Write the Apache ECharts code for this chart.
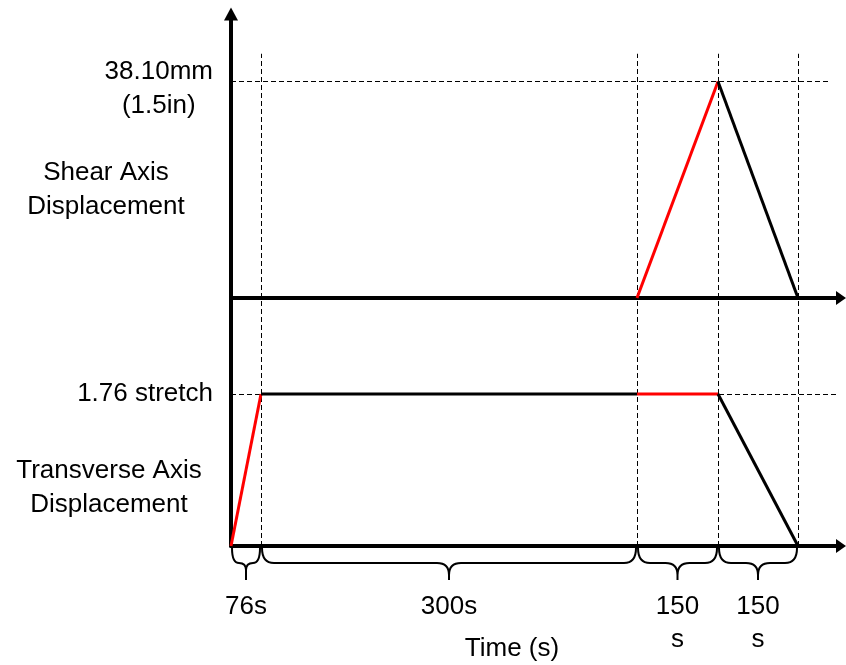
<!DOCTYPE html>
<html>
<head>
<meta charset="utf-8">
<script src="https://cdn.jsdelivr.net/npm/echarts@6/dist/echarts.min.js"></script>
<style>
  html, body { margin: 0; padding: 0; background: #fff; }
  #chart { width: 846px; height: 665px; }
</style>
</head>
<body>
<div id="chart"></div>
<script>
// Loading protocol, drawn on a schematic (not-to-scale) time line.
const phaseLabels = ['76s', '300s', '150\ns', '150\ns'];
// schematic x position of each phase boundary
const phaseX = [0, 3.0, 40.6, 48.7, 56.7];
// displacement at each phase boundary
const shearValues = [0, 0, 0, 38.10, 0];          // mm
const transverseValues = [0, 1.76, 1.76, 1.76, 0]; // stretch ratio
// phases in which each axis is being actively driven
const shearActive = [false, false, true, false];
const transverseActive = [true, false, true, false];

const FONT = "'Liberation Sans', Arial, sans-serif";
const X_MAX = 61;
const GUIDE_TOP = 43; // upper end of the vertical guides in the shear panel

function segmentSeries(values, active, gridIdx) {
  return values.slice(0, -1).map((v, i) => ({
    type: 'line',
    xAxisIndex: gridIdx,
    yAxisIndex: gridIdx,
    symbol: 'none',
    z: 5,
    lineStyle: { width: 3, color: active[i] ? '#ff0000' : '#000000' },
    data: [[phaseX[i], v], [phaseX[i + 1], values[i + 1]]]
  }));
}

const dashed = { type: [5, 3], width: 1, color: '#000' };

function guides(peak, xEnd, topVal) {
  const lines = phaseX.slice(1).map(x => [{ coord: [x, 0] }, { coord: [x, topVal] }]);
  lines.push([{ coord: [0, peak] }, { coord: [xEnd, peak] }]);
  return {
    silent: true, symbol: ['none', 'none'], label: { show: false },
    lineStyle: dashed, emphasis: { disabled: true }, animation: false,
    data: lines
  };
}

const shearSeries = segmentSeries(shearValues, shearActive, 0);
shearSeries[0].markLine = guides(Math.max(...shearValues), 59.7, GUIDE_TOP);
const transSeries = segmentSeries(transverseValues, transverseActive, 1);
transSeries[0].markLine = guides(Math.max(...transverseValues), 60.7, 3);

function xAxisCfg(gridIdx) {
  return {
    type: 'value', gridIndex: gridIdx, min: 0, max: X_MAX,
    axisLine: { show: true, symbol: ['none', 'triangle'], symbolSize: [14, 10],
                lineStyle: { color: '#000', width: 4 } },
    axisTick: { show: false }, axisLabel: { show: false }, splitLine: { show: false }
  };
}

// curly braces under the time axis, one per phase, with the phase duration
const braceSeries = {
  type: 'custom',
  xAxisIndex: 1, yAxisIndex: 1,
  clip: false, silent: true, z: 6,
  data: phaseLabels.map((_, i) => [phaseX[i], phaseX[i + 1]]),
  renderItem(params, api) {
    const a = api.coord([api.value(0), 0]);
    const b = api.coord([api.value(1), 0]);
    const x0 = a[0] + 1, x1 = b[0] - 1, y0 = a[1] + 2;
    const yh = y0 + 15, yt = y0 + 32;
    const xm = (x0 + x1) / 2;
    const r = Math.min(12, (x1 - x0) / 4);
    const d =
      `M${x0},${y0} Q${x0},${yh} ${x0 + r},${yh} L${xm - r},${yh} Q${xm},${yh} ${xm},${yh + r} L${xm},${yt} ` +
      `M${xm},${yt} L${xm},${yh + r} Q${xm},${yh} ${xm + r},${yh} L${x1 - r},${yh} Q${x1},${yh} ${x1},${y0}`;
    return {
      type: 'group',
      children: [
        { type: 'path', shape: { pathData: d },
          style: { fill: null, stroke: '#000', lineWidth: 2 } },
        { type: 'text', x: xm, y: y0 + 42,
          style: { text: phaseLabels[params.dataIndex], fill: '#000',
                   font: `26px ${FONT}`, align: 'center', verticalAlign: 'top',
                   lineHeight: 33 } }
      ]
    };
  }
};

const chart = echarts.init(document.getElementById('chart'), null, { renderer: 'canvas' });
chart.setOption({
  animation: false,
  backgroundColor: '#fff',
  textStyle: { fontFamily: FONT },
  grid: [
    { left: 231, right: 5, top: 14, bottom: 367 },
    { left: 231, right: 5, top: 287, bottom: 119 }
  ],
  xAxis: [xAxisCfg(0), xAxisCfg(1)],
  yAxis: [
    {
      type: 'value', gridIndex: 0, min: 0, max: 50,
      axisLine: { show: true, symbol: ['none', 'triangle'], symbolSize: [14, 13],
                  lineStyle: { color: '#000', width: 4 } },
      axisTick: { show: false }, splitLine: { show: false },
      axisLabel: {
        customValues: [Math.max(...shearValues)],
        margin: 18, padding: [14, 0, 0, 0],
        formatter: v => `{c|${v.toFixed(2)}mm}\n{c|(${(v / 25.4).toFixed(1)}in)}`,
        rich: { c: { fontSize: 26, lineHeight: 34, align: 'center', color: '#000', fontFamily: FONT } }
      }
    },
    {
      type: 'value', gridIndex: 1, min: 0, max: 3,
      axisLine: { show: true, lineStyle: { color: '#000', width: 4 } },
      axisTick: { show: false }, splitLine: { show: false },
      axisLabel: {
        customValues: [Math.max(...transverseValues)],
        margin: 18, padding: [4, 0, 0, 0], fontSize: 26, color: '#000', fontFamily: FONT,
        formatter: v => `${v.toFixed(2)} stretch`
      }
    }
  ],
  graphic: [
    { type: 'text', x: 106, y: 190,
      style: { text: 'Shear Axis\nDisplacement', font: `26px ${FONT}`, fill: '#000',
               align: 'center', verticalAlign: 'middle', lineHeight: 34 } },
    { type: 'text', x: 109, y: 488,
      style: { text: 'Transverse Axis\nDisplacement', font: `26px ${FONT}`, fill: '#000',
               align: 'center', verticalAlign: 'middle', lineHeight: 34 } },
    { type: 'text', x: 512, y: 649,
      style: { text: 'Time (s)', font: `26px ${FONT}`, fill: '#000',
               align: 'center', verticalAlign: 'middle' } }
  ],
  series: [...shearSeries, ...transSeries, braceSeries]
});
</script>
</body>
</html>
